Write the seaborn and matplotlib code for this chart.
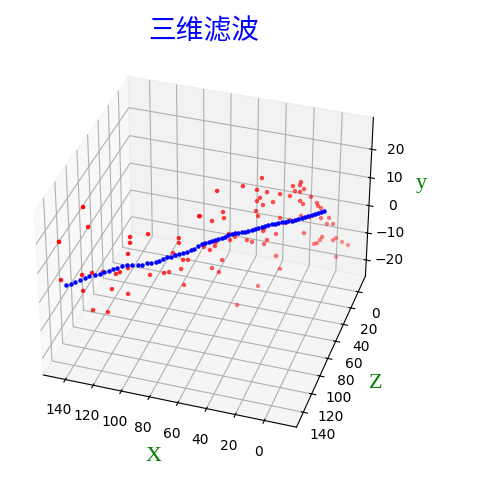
import matplotlib
matplotlib.use('Agg')
import matplotlib.pyplot as plt
import seaborn as sns

sns.reset_defaults()

# noisy points (red) and filtered track (blue)
red_x = [132.0,129.9,144.7,144.6,133.9,128.8,123.2,133.7,129.0,121.3,118.9,110.6,116.6,114.5,110.3,110.1,108.9,108.8,99.5,83.4,83.4,86.6,81.3,78.7,98.9,91.5,88.8,82.4,80.9,72.7,39.1,49.3,63.1,41.7,36.2,40.0,41.6,32.8,38.3,29.0,22.0,18.1,17.6,20.8,18.0,15.8,23.5,11.8,17.8,16.1,8.3,7.6,5.9,59.9,59.4,72.2,65.8,42.0,40.9,28.7,23.1,25.3,17.0,12.0,5.7,1.1,2.2,-1.3,37.5,38.0,30.8,56.6,15.1,4.7,5.8,7.5,9.2,-3.3,-1.6,-6.9,-10.5,53.3,56.0,46.8,44.0,35.7,37.3,63.6,64.2,70.1,66.9,60.3,65.8,62.0,30.5,28.1,-3.8,40.3,51.9]
red_y = [27.9,20.8,18.6,5.5,5.1,4.8,4.0,-0.5,-8.3,-10.6,-2.9,-6.3,2.0,2.2,2.8,7.7,11.3,13.3,12.5,8.0,6.3,3.4,-0.1,-0.6,-1.9,-2.7,-2.9,-3.1,-9.1,13.6,20.5,19.6,20.5,16.9,15.1,13.8,13.0,11.0,11.0,13.1,14.6,14.2,15.2,12.6,11.8,12.4,11.4,8.9,8.6,7.2,6.1,4.9,3.8,12.6,10.4,13.5,10.6,9.6,7.6,4.6,2.8,2.2,3.1,1.8,0.2,-0.6,-2.6,-3.3,2.4,1.7,-0.7,4.3,-3.4,-6.8,-7.7,-8.5,-8.5,-8.8,-9.2,-10.9,-12.7,2.6,2.0,0.2,-1.0,-1.9,-3.0,2.8,1.5,2.3,0.6,-4.3,-6.1,-8.3,-8.7,-13.9,-15.8,-17.7,-22.4]
blue_x = [142.2,139.7,137.6,135.0,132.5,130.4,127.3,124.8,122.7,120.1,118.0,115.9,113.3,110.8,108.2,105.1,103.0,100.3,98.3,95.6,94.0,91.9,89.8,87.7,85.6,83.4,81.3,79.2,77.0,75.4,73.3,71.1,69.5,67.4,65.8,64.2,62.5,60.4,58.8,57.1,55.0,53.4,51.7,49.5,47.9,46.3,44.1,42.4,40.8,38.6,37.0,35.3,33.1,31.5,29.8,27.6,25.9,24.3,22.0,20.3,18.7,16.4,14.8,13.1,10.9,9.2,7.5,5.8,4.1]
blue_y = [3.3,3.1,3.4,3.6,3.8,4.0,3.8,3.6,3.9,3.7,4.0,3.9,4.1,4.0,3.4,2.8,2.4,2.6,2.2,2.0,2.0,2.3,2.6,2.2,2.5,2.4,2.4,2.3,2.6,2.6,3.3,3.5,3.6,3.5,3.6,3.6,3.6,3.6,3.6,4.0,4.0,4.0,3.7,3.6,3.3,3.3,3.3,3.3,3.4,3.3,3.3,3.4,3.3,3.0,3.0,3.0,2.6,2.7,2.3,2.3,2.3,2.3,2.3,2.3,2.3,2.3,2.4,2.4,2.4]

colors = sns.color_palette(['red', 'blue'])

fig = plt.figure(figsize=(4.91, 4.79), dpi=100)
ax = fig.add_axes([-0.009, 0.051, 0.848, 0.85], projection='3d')
ax.view_init(elev=35, azim=108)
ax.computed_zorder = False

# depth axis follows x, so both get the same values
ax.scatter(red_x, red_x, red_y, color=colors[0], s=5)
ax.scatter(blue_x, blue_x, blue_y, color=colors[1], s=5, depthshade=False)

ax.set_xlim(-22, 156)
ax.set_ylim(-20, 156)
ax.set_zlim(-26, 31)
ax.set_xticks(range(0, 141, 20))
ax.set_yticks(range(0, 141, 20))
ax.set_zticks([-20, -10, 0, 10, 20])
ax.set_xlabel('X', family='Liberation Serif', fontsize=16, color='green', labelpad=5.5)
ax.set_ylabel('Z', family='Liberation Serif', fontsize=16, color='green', labelpad=6)
ax.set_zlabel('y', family='Liberation Serif', fontsize=16, color='green', labelpad=5)
ax.set_title('三维滤波', family=['Noto Sans CJK SC'], fontsize=20, color='blue', y=1.085)

fig.savefig('out.png', dpi=100)
